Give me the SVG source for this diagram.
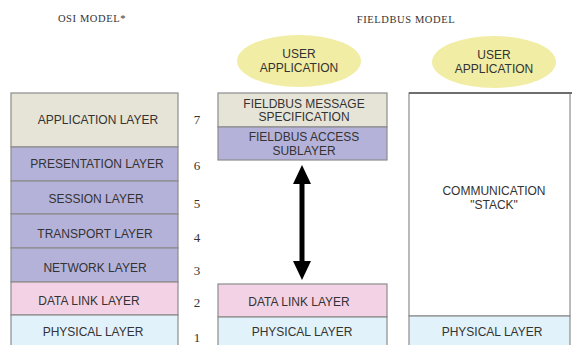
<svg xmlns="http://www.w3.org/2000/svg" width="572" height="345" viewBox="0 0 572 345">
  <style>
    .title { font-family: "Liberation Serif", serif; font-size: 10.5px; letter-spacing: 0.6px; fill: #333; text-anchor: middle; }
    .lbl { font-family: "Liberation Sans", Arial, sans-serif; font-size: 12px; fill: #333; text-anchor: middle; }
    .num { font-family: "Liberation Serif", serif; font-size: 13px; fill: #333; text-anchor: middle; }
    .box { stroke: #8c8c8c; stroke-width: 1.2; }
    .app { fill: #e6e4d6; }
    .pur { fill: #b5b2da; }
    .dl { fill: #f2d2e4; }
    .phy { fill: #e2f2fa; }
    .ell { fill: #f1eda4; }
  </style>
  <rect width="572" height="345" fill="#ffffff"/>

  <text class="title" x="92" y="22">OSI MODEL*</text>
  <text class="title" x="406" y="23">FIELDBUS MODEL</text>

  <!-- OSI stack -->
  <g id="osi-application">
    <rect class="box app" x="11" y="93" width="167" height="54"/>
    <text class="lbl" x="98" y="124">APPLICATION LAYER</text>
  </g>
  <g id="osi-presentation">
    <rect class="box pur" x="11" y="147" width="167" height="34"/>
    <text class="lbl" x="97" y="168">PRESENTATION  LAYER</text>
  </g>
  <g id="osi-session">
    <rect class="box pur" x="11" y="181" width="167" height="33"/>
    <text class="lbl" x="96" y="203">SESSION  LAYER</text>
  </g>
  <g id="osi-transport">
    <rect class="box pur" x="11" y="214" width="167" height="34"/>
    <text class="lbl" x="95" y="238">TRANSPORT  LAYER</text>
  </g>
  <g id="osi-network">
    <rect class="box pur" x="11" y="248" width="167" height="34"/>
    <text class="lbl" x="95" y="272">NETWORK  LAYER</text>
  </g>
  <g id="osi-datalink">
    <rect class="box dl" x="11" y="282" width="167" height="33"/>
    <text class="lbl" x="89" y="305">DATA LINK  LAYER</text>
  </g>
  <g id="osi-physical">
    <rect class="box phy" x="11" y="315" width="167" height="32"/>
    <text class="lbl" x="93" y="336">PHYSICAL LAYER</text>
  </g>

  <!-- layer numbers -->
  <g id="layer-numbers">
    <text class="num" x="197" y="124">7</text>
    <text class="num" x="197" y="170">6</text>
    <text class="num" x="197" y="208">5</text>
    <text class="num" x="197" y="242">4</text>
    <text class="num" x="197" y="275">3</text>
    <text class="num" x="197" y="307">2</text>
    <text class="num" x="197" y="342">1</text>
  </g>

  <!-- Fieldbus model -->
  <g id="fb-user-app">
    <ellipse class="ell" cx="299" cy="61" rx="62" ry="26"/>
    <text class="lbl" x="299" y="58">USER</text>
    <text class="lbl" x="299" y="72">APPLICATION</text>
  </g>
  <g id="fb-fms">
    <rect class="box app" x="218" y="93" width="169" height="34"/>
    <text class="lbl" x="304" y="108">FIELDBUS MESSAGE</text>
    <text class="lbl" x="304" y="121">SPECIFICATION</text>
  </g>
  <g id="fb-fas">
    <rect class="box pur" x="218" y="127" width="169" height="33"/>
    <text class="lbl" x="304" y="141">FIELDBUS ACCESS</text>
    <text class="lbl" x="304" y="155">SUBLAYER</text>
  </g>
  <g id="fb-datalink">
    <rect class="box dl" x="218" y="284" width="169" height="33"/>
    <text class="lbl" x="299" y="306">DATA LINK  LAYER</text>
  </g>
  <g id="fb-physical">
    <rect class="box phy" x="218" y="317" width="169" height="30"/>
    <text class="lbl" x="302" y="336">PHYSICAL LAYER</text>
  </g>

  <!-- Alternative stack -->
  <g id="alt-user-app">
    <ellipse class="ell" cx="494" cy="62" rx="62" ry="26"/>
    <text class="lbl" x="494" y="59">USER</text>
    <text class="lbl" x="494" y="73">APPLICATION</text>
  </g>
  <g id="alt-stack">
    <rect x="409" y="93" width="161" height="223" fill="#ffffff" stroke="#8c8c8c" stroke-width="1.2"/>
    <line x1="409" y1="93" x2="572" y2="93" stroke="#6e6e6e" stroke-width="2"/>
    <text class="lbl" x="494" y="195">COMMUNICATION</text>
    <text class="lbl" x="494" y="209">"STACK"</text>
  </g>
  <g id="alt-physical">
    <rect class="box phy" x="409" y="316" width="161" height="31"/>
    <text class="lbl" x="492" y="336">PHYSICAL LAYER</text>
  </g>

  <!-- connectors -->
  <g id="connectors">
    <line x1="302" y1="180" x2="302" y2="264" stroke="#000" stroke-width="5"/>
    <polygon points="302,165 311,184 293,184" fill="#000"/>
    <polygon points="302,280 311,261 293,261" fill="#000"/>
  </g>
</svg>
